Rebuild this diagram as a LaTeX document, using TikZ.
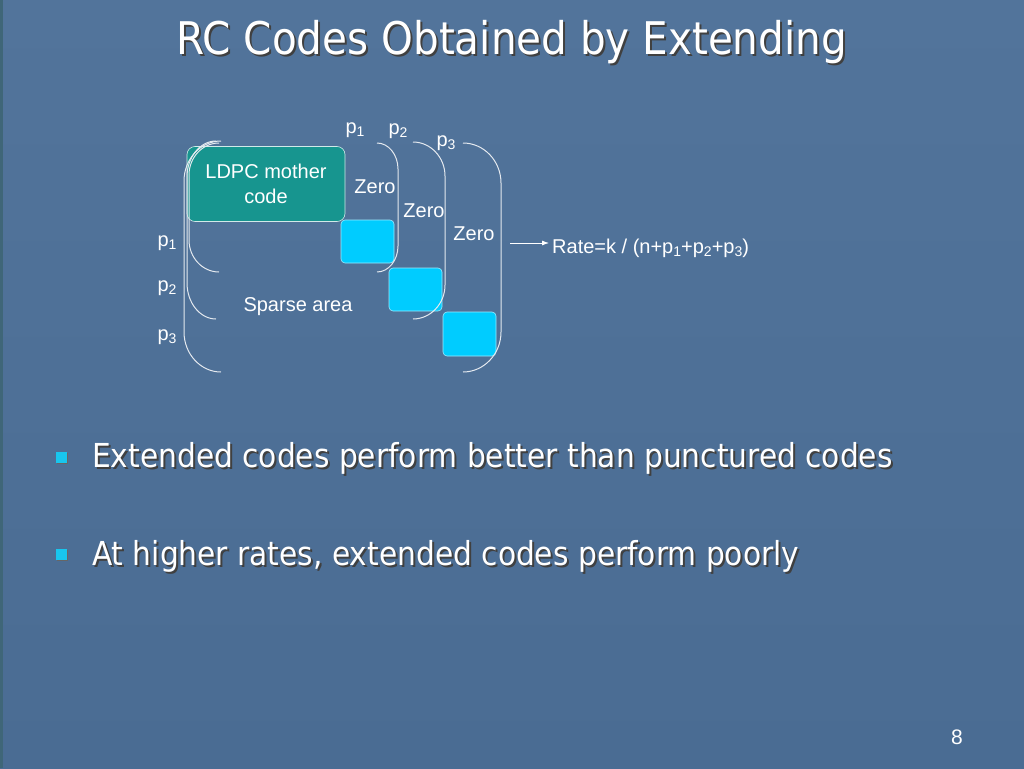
\documentclass[tikz,border=0pt]{standalone}
\usepackage{fontspec}
\setmainfont{Liberation Sans}
\newfontfamily\slidefont{DejaVu Sans Condensed}
\usetikzlibrary{arrows.meta}
\definecolor{slidetop}{HTML}{52749B}
\definecolor{slidebot}{HTML}{4A6C93}
\definecolor{slideedge}{HTML}{3F6678}
\definecolor{motherteal}{HTML}{17958F}
\definecolor{blockcyan}{HTML}{00CCFF}
\definecolor{bulletcyan}{HTML}{18C6EE}
\tikzset{
  paren/.style={draw=white!85!slidebot, line width=1pt},
  smalltext/.style={text=white, font=\fontsize{20}{22}\selectfont, inner sep=0pt},
  block/.style={fill=blockcyan, draw=white!60!blockcyan, line width=0.6pt, rounded corners=4pt},
  bullet/.style={fill=bulletcyan, minimum size=11pt, inner sep=0pt},
  bigtext/.style={anchor=base west, inner sep=0pt, font=\slidefont\fontsize{33}{38}\selectfont},
}
% small index below the line
\newcommand{\lowidx}[1]{\raisebox{-0.3ex}{\fontsize{14}{14}\selectfont #1}}
% text with a dark drop shadow
\def\shadowtext#1#2#3#4#5{
  \node[#5, text=black!75] at (#1+2,#2+2) {#4};
  \node[#5, text=white] (#3) at (#1,#2) {#4};
}
% bracket: end x, bulge x, top y, bottom y, curve height
\def\bracket#1#2#3#4#5{
  \draw[paren] (#1,#3) .. controls (#1+0.55*#2-0.55*#1,#3) and (#2,#3+0.45*#5) .. (#2,#3+#5)
    -- (#2,#4-#5) .. controls (#2,#4-0.45*#5) and (#1+0.55*#2-0.55*#1,#4) .. (#1,#4);
}
\begin{document}
\begin{tikzpicture}[x=1pt,y=-1pt]
  \useasboundingbox (0,0) rectangle (1024,768);
  % background
  \shade[top color=slidetop, bottom color=slidebot] (0,0) rectangle (1024,768);
  \fill[slideedge] (0,0) rectangle (3,768);
  % title
  \shadowtext{512}{42}{title}{RC Codes Obtained by Extending}{inner sep=0pt, font=\slidefont\fontsize{45}{50}\selectfont}
  % mother code and extension blocks
  \node[fill=motherteal, draw=white!80!motherteal, line width=0.6pt, rounded corners=8pt,
        minimum width=158pt, minimum height=75pt, inner sep=0pt, text=white,
        align=center, font=\fontsize{20}{25}\selectfont] (mother) at (266,184) {LDPC mother\\code};
  \draw[block] (341,220) rectangle (394,263);
  \draw[block] (389,268) rectangle (442,311);
  \draw[block] (443,312) rectangle (496,356);
  % left brackets
  \bracket{219}{189}{143}{272}{32}
  \bracket{216}{187}{141}{319}{36}
  \bracket{221}{184}{141}{372}{40}
  % right brackets
  \bracket{377}{398}{143}{272}{26}
  \bracket{413}{445}{142}{319}{34}
  \bracket{463}{501}{143}{372}{40}
  % labels
  \node[smalltext] (top1) at (355,130) {p\lowidx{1}};
  \node[smalltext] (top2) at (398,131) {p\lowidx{2}};
  \node[smalltext] (top3) at (446,143) {p\lowidx{3}};
  \node[smalltext] (side1) at (167,243) {p\lowidx{1}};
  \node[smalltext] (side2) at (167,288) {p\lowidx{2}};
  \node[smalltext] (side3) at (167,337) {p\lowidx{3}};
  \node[smalltext] (zero1) at (375,187) {Zero};
  \node[smalltext] (zero2) at (424,211) {Zero};
  \node[smalltext] (zero3) at (474,234) {Zero};
  \node[smalltext] (sparse) at (298,307) {Sparse area};
  \node[smalltext, anchor=west] (rate) at (552,248) {Rate=k / (n+p\lowidx{1}+p\lowidx{2}+p\lowidx{3})};
  \coordinate (ratefrom) at (510,243);
  \draw[white, line width=0.8pt, shorten >=3pt, -{Latex[length=7pt,width=5pt]}] (ratefrom) -- (ratefrom -| rate.west);
  % bullets
  \node[bullet, fill=black!60] at (62.5,458.5) {};
  \node[bullet] (dot1) at (61,457) {};
  \shadowtext{92}{467}{item1}{Extended codes perform better than punctured codes}{bigtext}
  \node[bullet, fill=black!60] at (62.5,555.5) {};
  \node[bullet] (dot2) at (61,554) {};
  \shadowtext{92}{565}{item2}{At higher rates, extended codes perform poorly}{bigtext}
  % page number
  \node[text=white, font=\fontsize{21}{24}\selectfont] (page) at (957,737) {8};
\end{tikzpicture}
\end{document}
